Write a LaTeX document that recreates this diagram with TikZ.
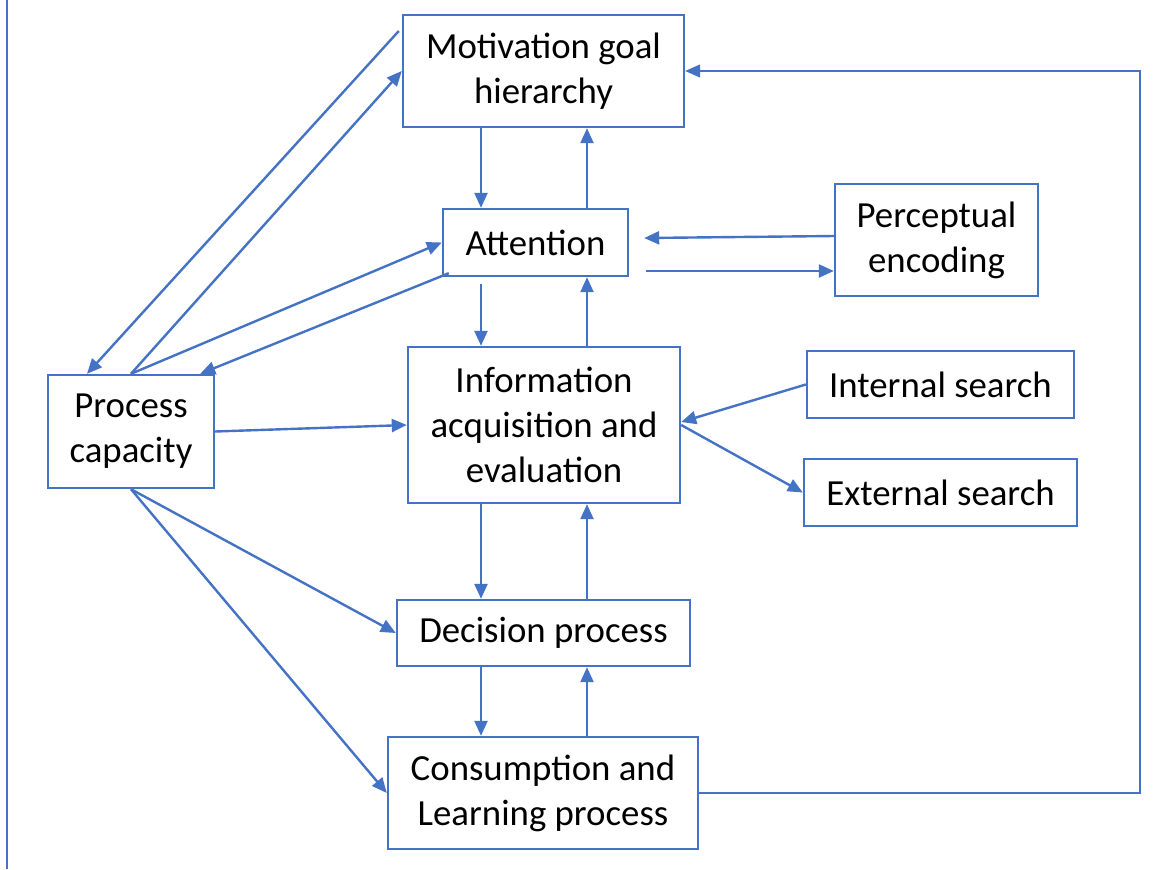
\documentclass[tikz,border=0pt]{standalone}
\usepackage{fontspec}
\setmainfont{Carlito}
\usetikzlibrary{arrows.meta}
\definecolor{boxblue}{HTML}{4472C4}

\begin{document}
\begin{tikzpicture}[x=0.5pt,y=-0.5pt,
    box/.style={draw=boxblue,line width=1.2pt,inner sep=0pt,align=center,font=\fontsize{18.4}{22.5}\selectfont},
    arr/.style={draw=boxblue,line width=1.2pt,-{Triangle[length=7.5pt,width=6.5pt]}}]
  \useasboundingbox (0,0) rectangle (1164,869);
  \node[box,minimum width=140.5pt,minimum height=56pt] (motivation) at (543.5,71) {Motivation goal\\hierarchy};
  \node[box,minimum width=92.5pt,minimum height=33.5pt] (attention) at (535.5,242.5) {Attention};
  \node[box,minimum width=101.5pt,minimum height=56pt] (perceptual) at (936.5,240) {Perceptual\\encoding};
  \node[box,minimum width=83pt,minimum height=56.5pt] (capacity) at (131,431.5) {Process\\capacity};
  \node[box,minimum width=136pt,minimum height=78pt] (info) at (544,425) {Information\\acquisition and\\evaluation};
  \node[box,minimum width=133.5pt,minimum height=33.5pt] (internal) at (940.5,384.5) {Internal search};
  \node[box,minimum width=136.5pt,minimum height=33.5pt] (external) at (940.5,492.5) {External search};
  \node[box,minimum width=146.5pt,minimum height=33pt] (decision) at (543.5,633) {Decision process};
  \node[box,minimum width=155pt,minimum height=56pt] (consumption) at (543,793) {Consumption and\\Learning process};
  \coordinate (dn) at (481,0);
  \coordinate (up) at (587,0);
  \coordinate (loop) at (1140,0);

  \draw[arr] (dn |- motivation.south) -- (dn |- attention.north);
  \draw[arr] (up |- attention.north) -- (up |- motivation.south);
  \draw[arr,shorten <=3.5pt] (dn |- attention.south) -- (dn |- info.north);
  \draw[arr] (up |- info.north) -- (up |- attention.south);
  \draw[arr] (dn |- info.south) -- (dn |- decision.north);
  \draw[arr] (up |- decision.north) -- (up |- info.south);
  \draw[arr] (dn |- decision.south) -- (dn |- consumption.north);
  \draw[arr] (up |- consumption.north) -- (up |- decision.south);

  \draw[arr] ([yshift=2pt]perceptual.west) -- ([xshift=7.5pt,yshift=2.25pt]attention.east);
  \draw[arr] ([xshift=8.5pt,yshift=-14.25pt]attention.east) -- ([yshift=-15.5pt]perceptual.west);
  \draw[arr] (internal.west) -- ([yshift=1.5pt]info.east);
  \draw[arr] (info.east) -- (external.west);

  \draw[arr] (capacity.east) -- (info.west);
  \draw[arr] (capacity.south) -- (decision.west);
  \draw[arr] (capacity.south) -- (consumption.west);
  \draw[arr] ([shift={(-1.5pt,20pt)}]motivation.west) -- ([xshift=-22pt]capacity.north);
  \draw[arr] (capacity.north) -- (motivation.west);
  \draw[arr] (capacity.north) -- (attention.west);
  \draw[arr] ([shift={(3.5pt,2pt)}]attention.south west) -- ([xshift=-7.5pt]capacity.north east);

  \draw[arr,line width=0.6pt] (consumption.east) -- (consumption.east -| loop) -- (loop |- motivation.east) -- (motivation.east);
  \draw[boxblue,line width=1.2pt] (7,0) -- (7,869);
\end{tikzpicture}
\end{document}
